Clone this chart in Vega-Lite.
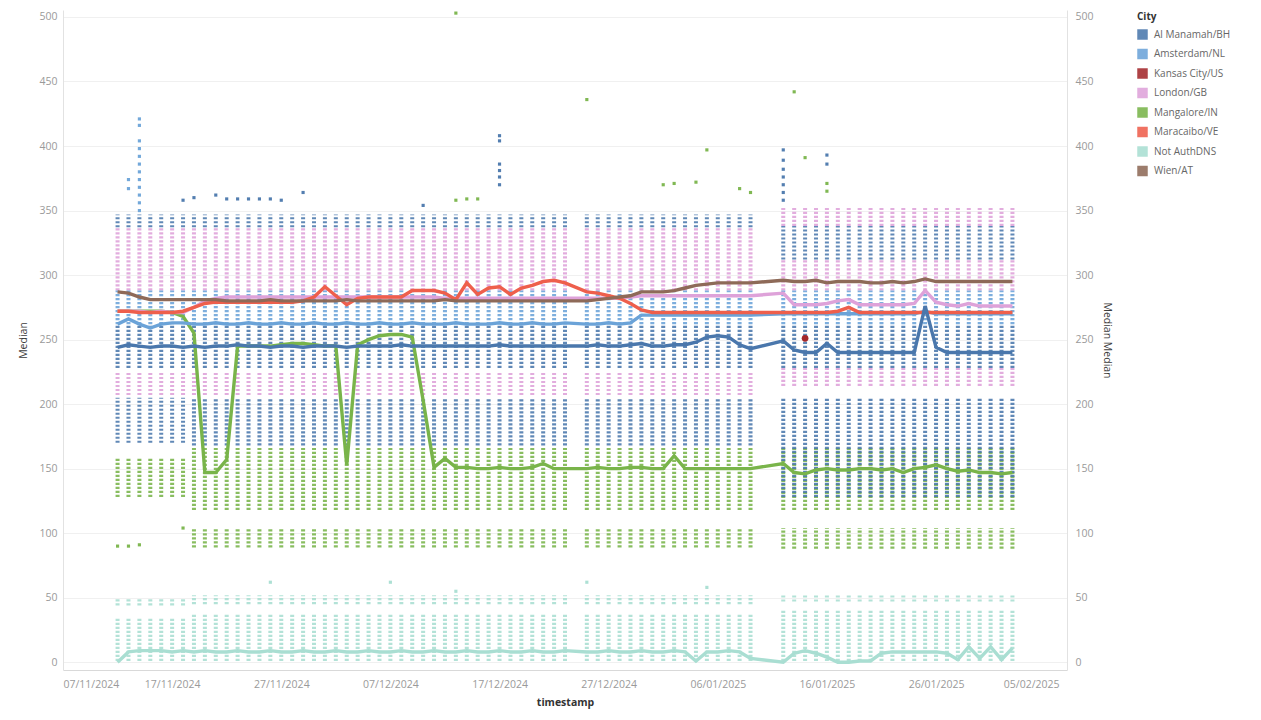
{
  "$schema": "https://vega.github.io/schema/vega-lite/v6.json",
  "width": 1004,
  "height": 660,
  "autosize": {"type": "none"},
  "padding": {"left": 63, "top": 10, "right": 194, "bottom": 50},
  "background": "white",
  "config": {
    "view": {"stroke": null},
    "font": "Open Sans",
    "axis": {"labelFont": "Open Sans", "titleFont": "Open Sans", "labelColor": "#9a9a9a", "titleColor": "#3c3c3c", "labelFontSize": 10.5, "titleFontSize": 10.5, "titleFontWeight": "normal", "ticks": false, "domainColor": "#e2e2e2", "gridColor": "#f0f0f0"}
  },
  "datasets": {
    "names": [
      {"k": "a", "city": "Al Manamah/BH"},
      {"k": "b", "city": "Amsterdam/NL"},
      {"k": "l", "city": "London/GB"},
      {"k": "g", "city": "Mangalore/IN"},
      {"k": "r", "city": "Maracaibo/VE"},
      {"k": "n", "city": "Not AuthDNS"},
      {"k": "w", "city": "Wien/AT"}
    ],
    "pat": [
      {"p": "E", "city": ["Al Manamah/BH", "London/GB", "Amsterdam/NL", "Al Manamah/BH", "London/GB", "Al Manamah/BH", "Mangalore/IN", "Not AuthDNS", "Not AuthDNS"], "lo": [337, 288, 262, 228, 207, 170, 128, 1, 44], "hi": [347, 337, 288, 262, 225, 205, 158, 35, 50]},
      {"p": "M", "city": ["Al Manamah/BH", "London/GB", "Amsterdam/NL", "Al Manamah/BH", "London/GB", "Al Manamah/BH", "Mangalore/IN", "Mangalore/IN", "Not AuthDNS", "Not AuthDNS"], "lo": [337, 288, 262, 228, 207, 168, 118, 89, 1, 45], "hi": [347, 337, 288, 262, 225, 205, 166, 103, 38, 52]},
      {"p": "L", "city": ["London/GB", "Al Manamah/BH", "London/GB", "Amsterdam/NL", "Al Manamah/BH", "London/GB", "Mangalore/IN", "Al Manamah/BH", "Mangalore/IN", "Not AuthDNS", "Not AuthDNS"], "lo": [338, 312, 288, 262, 228, 214, 118, 128, 88, 1, 47], "hi": [352, 338, 312, 288, 262, 228, 166, 205, 104, 40, 52]}
    ],
    "days": [
      {"t": "2024-11-12T00:00:00", "p": "E", "a": 244, "b": 262, "l": 272, "g": 272, "r": 272, "n": 0, "w": 287},
      {"t": "2024-11-13T00:00:00", "p": "E", "a": 246, "b": 266, "l": 272, "g": 272, "r": 272, "n": 8, "w": 286},
      {"t": "2024-11-14T00:00:00", "p": "E", "a": 245, "b": 262, "l": 272, "g": 272, "r": 271, "n": 9, "w": 283},
      {"t": "2024-11-15T00:00:00", "p": "E", "a": 244, "b": 259, "l": 271, "g": 272, "r": 271, "n": 9, "w": 281},
      {"t": "2024-11-16T00:00:00", "p": "E", "a": 245, "b": 262, "l": 272, "g": 272, "r": 271, "n": 9, "w": 281},
      {"t": "2024-11-17T00:00:00", "p": "E", "a": 245, "b": 263, "l": 271, "g": 271, "r": 271, "n": 8, "w": 281},
      {"t": "2024-11-18T00:00:00", "p": "E", "a": 244, "b": 263, "l": 271, "g": 268, "r": 272, "n": 9, "w": 281},
      {"t": "2024-11-19T00:00:00", "p": "M", "a": 245, "b": 262, "l": 275, "g": 255, "r": 275, "n": 8, "w": 281},
      {"t": "2024-11-20T00:00:00", "p": "M", "a": 244, "b": 262, "l": 280, "g": 147, "r": 278, "n": 9, "w": 281},
      {"t": "2024-11-21T00:00:00", "p": "M", "a": 245, "b": 263, "l": 282, "g": 147, "r": 279, "n": 8, "w": 281},
      {"t": "2024-11-22T00:00:00", "p": "M", "a": 245, "b": 262, "l": 283, "g": 157, "r": 279, "n": 8, "w": 280},
      {"t": "2024-11-23T00:00:00", "p": "M", "a": 246, "b": 262, "l": 283, "g": 245, "r": 279, "n": 9, "w": 280},
      {"t": "2024-11-24T00:00:00", "p": "M", "a": 245, "b": 263, "l": 283, "g": 245, "r": 279, "n": 8, "w": 280},
      {"t": "2024-11-25T00:00:00", "p": "M", "a": 245, "b": 262, "l": 283, "g": 245, "r": 279, "n": 8, "w": 280},
      {"t": "2024-11-26T00:00:00", "p": "M", "a": 244, "b": 262, "l": 283, "g": 245, "r": 279, "n": 9, "w": 281},
      {"t": "2024-11-27T00:00:00", "p": "M", "a": 245, "b": 263, "l": 283, "g": 246, "r": 279, "n": 8, "w": 280},
      {"t": "2024-11-28T00:00:00", "p": "M", "a": 245, "b": 262, "l": 283, "g": 247, "r": 279, "n": 8, "w": 280},
      {"t": "2024-11-29T00:00:00", "p": "M", "a": 244, "b": 262, "l": 283, "g": 247, "r": 280, "n": 9, "w": 280},
      {"t": "2024-11-30T00:00:00", "p": "M", "a": 245, "b": 263, "l": 283, "g": 246, "r": 283, "n": 8, "w": 280},
      {"t": "2024-12-01T00:00:00", "p": "M", "a": 245, "b": 262, "l": 283, "g": 245, "r": 291, "n": 8, "w": 280},
      {"t": "2024-12-02T00:00:00", "p": "M", "a": 245, "b": 262, "l": 283, "g": 245, "r": 284, "n": 9, "w": 280},
      {"t": "2024-12-03T00:00:00", "p": "M", "a": 244, "b": 263, "l": 283, "g": 153, "r": 277, "n": 8, "w": 281},
      {"t": "2024-12-04T00:00:00", "p": "M", "a": 245, "b": 262, "l": 283, "g": 246, "r": 282, "n": 8, "w": 280},
      {"t": "2024-12-05T00:00:00", "p": "M", "a": 245, "b": 262, "l": 283, "g": 250, "r": 283, "n": 9, "w": 280},
      {"t": "2024-12-06T00:00:00", "p": "M", "a": 245, "b": 263, "l": 283, "g": 253, "r": 283, "n": 8, "w": 280},
      {"t": "2024-12-07T00:00:00", "p": "M", "a": 245, "b": 262, "l": 283, "g": 254, "r": 283, "n": 8, "w": 280},
      {"t": "2024-12-08T00:00:00", "p": "M", "a": 246, "b": 262, "l": 283, "g": 254, "r": 283, "n": 9, "w": 280},
      {"t": "2024-12-09T00:00:00", "p": "M", "a": 245, "b": 263, "l": 283, "g": 252, "r": 288, "n": 8, "w": 280},
      {"t": "2024-12-10T00:00:00", "p": "M", "a": 245, "b": 262, "l": 283, "g": 203, "r": 288, "n": 8, "w": 280},
      {"t": "2024-12-11T00:00:00", "p": "M", "a": 245, "b": 262, "l": 283, "g": 151, "r": 288, "n": 9, "w": 280},
      {"t": "2024-12-12T00:00:00", "p": "M", "a": 245, "b": 262, "l": 282, "g": 158, "r": 286, "n": 8, "w": 281},
      {"t": "2024-12-13T00:00:00", "p": "M", "a": 245, "b": 263, "l": 282, "g": 151, "r": 281, "n": 8, "w": 280},
      {"t": "2024-12-14T00:00:00", "p": "M", "a": 245, "b": 262, "l": 282, "g": 151, "r": 294, "n": 9, "w": 280},
      {"t": "2024-12-15T00:00:00", "p": "M", "a": 245, "b": 262, "l": 282, "g": 150, "r": 285, "n": 8, "w": 280},
      {"t": "2024-12-16T00:00:00", "p": "M", "a": 245, "b": 262, "l": 282, "g": 150, "r": 290, "n": 8, "w": 280},
      {"t": "2024-12-17T00:00:00", "p": "M", "a": 246, "b": 263, "l": 282, "g": 151, "r": 291, "n": 9, "w": 280},
      {"t": "2024-12-18T00:00:00", "p": "M", "a": 245, "b": 262, "l": 282, "g": 150, "r": 285, "n": 8, "w": 280},
      {"t": "2024-12-19T00:00:00", "p": "M", "a": 245, "b": 262, "l": 282, "g": 150, "r": 290, "n": 8, "w": 280},
      {"t": "2024-12-20T00:00:00", "p": "M", "a": 245, "b": 263, "l": 282, "g": 151, "r": 292, "n": 9, "w": 280},
      {"t": "2024-12-21T00:00:00", "p": "M", "a": 245, "b": 262, "l": 282, "g": 154, "r": 295, "n": 8, "w": 280},
      {"t": "2024-12-22T00:00:00", "p": "M", "a": 245, "b": 262, "l": 282, "g": 150, "r": 296, "n": 8, "w": 280},
      {"t": "2024-12-23T00:00:00", "p": "M", "a": 245, "b": 263, "l": 282, "g": 150, "r": 294, "n": 9, "w": 280},
      {"t": "2024-12-25T00:00:00", "p": "M", "a": 245, "b": 262, "l": 282, "g": 150, "r": 287, "n": 8, "w": 280},
      {"t": "2024-12-26T00:00:00", "p": "M", "a": 246, "b": 262, "l": 282, "g": 151, "r": 286, "n": 8, "w": 281},
      {"t": "2024-12-27T00:00:00", "p": "M", "a": 245, "b": 263, "l": 282, "g": 150, "r": 284, "n": 9, "w": 282},
      {"t": "2024-12-28T00:00:00", "p": "M", "a": 245, "b": 262, "l": 282, "g": 150, "r": 282, "n": 8, "w": 283},
      {"t": "2024-12-29T00:00:00", "p": "M", "a": 246, "b": 263, "l": 283, "g": 151, "r": 278, "n": 8, "w": 284},
      {"t": "2024-12-30T00:00:00", "p": "M", "a": 247, "b": 269, "l": 284, "g": 151, "r": 273, "n": 9, "w": 287},
      {"t": "2024-12-31T00:00:00", "p": "M", "a": 245, "b": 269, "l": 284, "g": 150, "r": 271, "n": 8, "w": 287},
      {"t": "2025-01-01T00:00:00", "p": "M", "a": 245, "b": 269, "l": 284, "g": 150, "r": 271, "n": 8, "w": 287},
      {"t": "2025-01-02T00:00:00", "p": "M", "a": 246, "b": 269, "l": 284, "g": 160, "r": 271, "n": 9, "w": 288},
      {"t": "2025-01-03T00:00:00", "p": "M", "a": 246, "b": 269, "l": 284, "g": 150, "r": 271, "n": 8, "w": 290},
      {"t": "2025-01-04T00:00:00", "p": "M", "a": 248, "b": 269, "l": 284, "g": 150, "r": 271, "n": 1, "w": 292},
      {"t": "2025-01-05T00:00:00", "p": "M", "a": 252, "b": 269, "l": 284, "g": 150, "r": 271, "n": 8, "w": 293},
      {"t": "2025-01-06T00:00:00", "p": "M", "a": 253, "b": 269, "l": 284, "g": 150, "r": 271, "n": 8, "w": 294},
      {"t": "2025-01-07T00:00:00", "p": "M", "a": 252, "b": 269, "l": 284, "g": 150, "r": 271, "n": 9, "w": 294},
      {"t": "2025-01-08T00:00:00", "p": "M", "a": 246, "b": 269, "l": 284, "g": 150, "r": 271, "n": 8, "w": 294},
      {"t": "2025-01-09T00:00:00", "p": "M", "a": 243, "b": 269, "l": 284, "g": 150, "r": 271, "n": 3, "w": 294},
      {"t": "2025-01-12T00:00:00", "p": "L", "a": 249, "b": 270, "l": 286, "g": 154, "r": 271, "n": 0, "w": 296},
      {"t": "2025-01-13T00:00:00", "p": "L", "a": 242, "b": 270, "l": 277, "g": 147, "r": 271, "n": 7, "w": 295},
      {"t": "2025-01-14T00:00:00", "p": "L", "a": 240, "b": 270, "l": 277, "g": 146, "r": 271, "n": 9, "w": 295},
      {"t": "2025-01-15T00:00:00", "p": "L", "a": 240, "b": 270, "l": 277, "g": 149, "r": 271, "n": 7, "w": 296},
      {"t": "2025-01-16T00:00:00", "p": "L", "a": 247, "b": 270, "l": 278, "g": 150, "r": 271, "n": 4, "w": 294},
      {"t": "2025-01-17T00:00:00", "p": "L", "a": 240, "b": 270, "l": 280, "g": 149, "r": 272, "n": 0, "w": 295},
      {"t": "2025-01-18T00:00:00", "p": "L", "a": 240, "b": 270, "l": 281, "g": 149, "r": 275, "n": 0, "w": 295},
      {"t": "2025-01-19T00:00:00", "p": "L", "a": 240, "b": 270, "l": 277, "g": 150, "r": 271, "n": 1, "w": 295},
      {"t": "2025-01-20T00:00:00", "p": "L", "a": 240, "b": 270, "l": 277, "g": 150, "r": 271, "n": 1, "w": 294},
      {"t": "2025-01-21T00:00:00", "p": "L", "a": 240, "b": 270, "l": 277, "g": 149, "r": 271, "n": 7, "w": 294},
      {"t": "2025-01-22T00:00:00", "p": "L", "a": 240, "b": 270, "l": 277, "g": 150, "r": 271, "n": 8, "w": 295},
      {"t": "2025-01-23T00:00:00", "p": "L", "a": 240, "b": 270, "l": 277, "g": 147, "r": 271, "n": 8, "w": 294},
      {"t": "2025-01-24T00:00:00", "p": "L", "a": 240, "b": 270, "l": 278, "g": 150, "r": 271, "n": 8, "w": 295},
      {"t": "2025-01-25T00:00:00", "p": "L", "a": 276, "b": 272, "l": 288, "g": 151, "r": 271, "n": 8, "w": 297},
      {"t": "2025-01-26T00:00:00", "p": "L", "a": 244, "b": 270, "l": 279, "g": 153, "r": 271, "n": 8, "w": 295},
      {"t": "2025-01-27T00:00:00", "p": "L", "a": 240, "b": 270, "l": 277, "g": 150, "r": 271, "n": 7, "w": 295},
      {"t": "2025-01-28T00:00:00", "p": "L", "a": 240, "b": 270, "l": 276, "g": 148, "r": 271, "n": 2, "w": 295},
      {"t": "2025-01-29T00:00:00", "p": "L", "a": 240, "b": 270, "l": 278, "g": 149, "r": 271, "n": 12, "w": 295},
      {"t": "2025-01-30T00:00:00", "p": "L", "a": 240, "b": 270, "l": 276, "g": 147, "r": 271, "n": 3, "w": 295},
      {"t": "2025-01-31T00:00:00", "p": "L", "a": 240, "b": 270, "l": 276, "g": 147, "r": 271, "n": 12, "w": 295},
      {"t": "2025-02-01T00:00:00", "p": "L", "a": 240, "b": 270, "l": 276, "g": 146, "r": 271, "n": 2, "w": 295},
      {"t": "2025-02-02T00:00:00", "p": "L", "a": 240, "b": 270, "l": 276, "g": 147, "r": 271, "n": 11, "w": 295}
    ],
    "extra": [
      {"t": "2024-11-13T00:00:00", "city": "Amsterdam/NL", "v": 367},
      {"t": "2024-11-13T00:00:00", "city": "Amsterdam/NL", "v": 374},
      {"t": "2024-11-14T00:00:00", "city": "Amsterdam/NL", "v": 350},
      {"t": "2024-11-14T00:00:00", "city": "Amsterdam/NL", "v": 356},
      {"t": "2024-11-14T00:00:00", "city": "Amsterdam/NL", "v": 362},
      {"t": "2024-11-14T00:00:00", "city": "Amsterdam/NL", "v": 368},
      {"t": "2024-11-14T00:00:00", "city": "Amsterdam/NL", "v": 374},
      {"t": "2024-11-14T00:00:00", "city": "Amsterdam/NL", "v": 380},
      {"t": "2024-11-14T00:00:00", "city": "Amsterdam/NL", "v": 386},
      {"t": "2024-11-14T00:00:00", "city": "Amsterdam/NL", "v": 392},
      {"t": "2024-11-14T00:00:00", "city": "Amsterdam/NL", "v": 398},
      {"t": "2024-11-14T00:00:00", "city": "Amsterdam/NL", "v": 404},
      {"t": "2024-11-14T00:00:00", "city": "Amsterdam/NL", "v": 416},
      {"t": "2024-11-14T00:00:00", "city": "Amsterdam/NL", "v": 421},
      {"t": "2024-11-18T00:00:00", "city": "Al Manamah/BH", "v": 358},
      {"t": "2024-11-19T00:00:00", "city": "Al Manamah/BH", "v": 360},
      {"t": "2024-11-21T00:00:00", "city": "Al Manamah/BH", "v": 362},
      {"t": "2024-11-22T00:00:00", "city": "Al Manamah/BH", "v": 359},
      {"t": "2024-11-23T00:00:00", "city": "Al Manamah/BH", "v": 359},
      {"t": "2024-11-24T00:00:00", "city": "Al Manamah/BH", "v": 359},
      {"t": "2024-11-25T00:00:00", "city": "Al Manamah/BH", "v": 359},
      {"t": "2024-11-26T00:00:00", "city": "Al Manamah/BH", "v": 359},
      {"t": "2024-11-27T00:00:00", "city": "Al Manamah/BH", "v": 358},
      {"t": "2024-11-29T00:00:00", "city": "Al Manamah/BH", "v": 364},
      {"t": "2024-12-10T00:00:00", "city": "Al Manamah/BH", "v": 354},
      {"t": "2024-12-17T00:00:00", "city": "Al Manamah/BH", "v": 370},
      {"t": "2024-12-17T00:00:00", "city": "Al Manamah/BH", "v": 376},
      {"t": "2024-12-17T00:00:00", "city": "Al Manamah/BH", "v": 381},
      {"t": "2024-12-17T00:00:00", "city": "Al Manamah/BH", "v": 386},
      {"t": "2024-12-17T00:00:00", "city": "Al Manamah/BH", "v": 404},
      {"t": "2024-12-17T00:00:00", "city": "Al Manamah/BH", "v": 408},
      {"t": "2025-01-12T00:00:00", "city": "Al Manamah/BH", "v": 358},
      {"t": "2025-01-12T00:00:00", "city": "Al Manamah/BH", "v": 364},
      {"t": "2025-01-12T00:00:00", "city": "Al Manamah/BH", "v": 370},
      {"t": "2025-01-12T00:00:00", "city": "Al Manamah/BH", "v": 376},
      {"t": "2025-01-12T00:00:00", "city": "Al Manamah/BH", "v": 382},
      {"t": "2025-01-12T00:00:00", "city": "Al Manamah/BH", "v": 389},
      {"t": "2025-01-12T00:00:00", "city": "Al Manamah/BH", "v": 397},
      {"t": "2025-01-16T00:00:00", "city": "Al Manamah/BH", "v": 386},
      {"t": "2025-01-16T00:00:00", "city": "Al Manamah/BH", "v": 393},
      {"t": "2024-12-13T00:00:00", "city": "Mangalore/IN", "v": 503},
      {"t": "2024-12-13T00:00:00", "city": "Mangalore/IN", "v": 358},
      {"t": "2024-12-14T00:00:00", "city": "Mangalore/IN", "v": 359},
      {"t": "2024-12-15T00:00:00", "city": "Mangalore/IN", "v": 359},
      {"t": "2024-12-25T00:00:00", "city": "Mangalore/IN", "v": 436},
      {"t": "2025-01-01T00:00:00", "city": "Mangalore/IN", "v": 370},
      {"t": "2025-01-02T00:00:00", "city": "Mangalore/IN", "v": 371},
      {"t": "2025-01-04T00:00:00", "city": "Mangalore/IN", "v": 372},
      {"t": "2025-01-05T00:00:00", "city": "Mangalore/IN", "v": 397},
      {"t": "2025-01-08T00:00:00", "city": "Mangalore/IN", "v": 367},
      {"t": "2025-01-09T00:00:00", "city": "Mangalore/IN", "v": 364},
      {"t": "2025-01-13T00:00:00", "city": "Mangalore/IN", "v": 442},
      {"t": "2025-01-14T00:00:00", "city": "Mangalore/IN", "v": 391},
      {"t": "2025-01-16T00:00:00", "city": "Mangalore/IN", "v": 371},
      {"t": "2025-01-16T00:00:00", "city": "Mangalore/IN", "v": 365},
      {"t": "2024-11-12T00:00:00", "city": "Mangalore/IN", "v": 90},
      {"t": "2024-11-13T00:00:00", "city": "Mangalore/IN", "v": 90},
      {"t": "2024-11-14T00:00:00", "city": "Mangalore/IN", "v": 91},
      {"t": "2024-11-18T00:00:00", "city": "Mangalore/IN", "v": 104},
      {"t": "2024-11-26T00:00:00", "city": "Not AuthDNS", "v": 62},
      {"t": "2024-12-07T00:00:00", "city": "Not AuthDNS", "v": 62},
      {"t": "2024-12-13T00:00:00", "city": "Not AuthDNS", "v": 55},
      {"t": "2024-12-25T00:00:00", "city": "Not AuthDNS", "v": 62},
      {"t": "2025-01-05T00:00:00", "city": "Not AuthDNS", "v": 58}
    ],
    "kc": [
      {"t": "2025-01-14T00:00:00", "city": "Kansas City/US", "val": 251}
    ]
  },
  "encoding": {
    "x": {
      "field": "t", "type": "temporal", "title": "timestamp",
      "scale": {"domain": [{"year": 2024, "month": 11, "date": 7}, {"year": 2025, "month": 2, "date": 7}]},
      "axis": {
        "values": [
          {"year": 2024, "month": 11, "date": 7}, {"year": 2024, "month": 11, "date": 17}, {"year": 2024, "month": 11, "date": 27},
          {"year": 2024, "month": 12, "date": 7}, {"year": 2024, "month": 12, "date": 17}, {"year": 2024, "month": 12, "date": 27},
          {"year": 2025, "month": 1, "date": 6}, {"year": 2025, "month": 1, "date": 16}, {"year": 2025, "month": 1, "date": 26},
          {"year": 2025, "month": 2, "date": 5}
        ],
        "format": "%d/%m/%Y", "grid": false, "labelOverlap": false, "labelPadding": 9, "titlePadding": 8,
        "titleFontWeight": "bold", "titleColor": "#333333", "domainColor": "#d9d9d9",
        "labelAlign": {"condition": {"test": "datum.value < datetime(2024, 10, 8)", "value": "left"}, "value": "center"},
        "labelOffset": {"condition": {"test": "datum.value > datetime(2025, 1, 1)", "value": -14}, "value": 0}
      }
    },
    "color": {
      "field": "city", "type": "nominal",
      "scale": {
        "domain": ["Al Manamah/BH", "Amsterdam/NL", "Kansas City/US", "London/GB", "Mangalore/IN", "Maracaibo/VE", "Not AuthDNS", "Wien/AT"],
        "range": ["#4a77ac", "#6ba3d8", "#a3282b", "#dea2d9", "#79b44a", "#ee5f4c", "#a9ded2", "#8e6a58"]
      },
      "legend": {
        "orient": "none", "legendX": 1074, "legendY": 2, "title": "City",
        "titleFontSize": 10, "titleFontWeight": "bold", "titleColor": "#333333", "titlePadding": 7,
        "labelFontSize": 10, "labelColor": "#666666", "labelOffset": 6,
        "symbolType": "square", "symbolSize": 110, "symbolStrokeWidth": 0, "rowPadding": 8.5,
        "encode": {"symbols": {"update": {"fill": {"scale": "color", "field": "value"}, "opacity": {"value": 1}, "strokeWidth": {"value": 0}, "strokeDash": {"value": []}}}}
      }
    }
  },
  "layer": [
    {
      "layer": [
        {
          "data": {"name": "days"},
          "transform": [
            {"lookup": "p", "from": {"data": {"name": "pat"}, "key": "p", "fields": ["city", "lo", "hi"]}},
            {"flatten": ["city", "lo", "hi"]}
          ],
          "mark": {"type": "rule", "strokeWidth": 4, "strokeDash": [2.2, 1.8], "opacity": 0.88},
          "encoding": {
            "y": {"field": "lo", "type": "quantitative", "title": "Median", "scale": {"domain": [-6, 505.4], "nice": false, "zero": false},
              "axis": {"orient": "left", "values": [0, 50, 100, 150, 200, 250, 300, 350, 400, 450, 500], "grid": true, "labelPadding": 6, "titlePadding": 10}},
            "y2": {"field": "hi"}
          }
        },
        {
          "data": {"name": "extra"},
          "mark": {"type": "square", "size": 10, "filled": true, "opacity": 0.95},
          "encoding": {
            "y": {"field": "v", "type": "quantitative", "title": "Median", "scale": {"domain": [-6, 505.4], "nice": false, "zero": false},
              "axis": {"orient": "left", "values": [0, 50, 100, 150, 200, 250, 300, 350, 400, 450, 500], "grid": true, "labelPadding": 6, "titlePadding": 10}}
          }
        }
      ]
    },
    {
      "layer": [
        {
          "data": {"name": "days"},
          "transform": [
            {"fold": ["g", "b", "l", "r", "n", "w", "a"], "as": ["k", "val"]},
            {"lookup": "k", "from": {"data": {"name": "names"}, "key": "k", "fields": ["city"]}}
          ],
          "mark": {"type": "line", "strokeWidth": 3.4, "opacity": 1},
          "encoding": {
            "y": {"field": "val", "type": "quantitative", "title": "Median Median", "scale": {"domain": [-6, 505.4], "nice": false, "zero": false},
              "axis": {"orient": "right", "values": [0, 50, 100, 150, 200, 250, 300, 350, 400, 450, 500], "grid": false, "labelPadding": 8, "titlePadding": 8}}
          }
        },
        {
          "data": {"name": "kc"},
          "mark": {"type": "circle", "size": 45, "opacity": 1},
          "encoding": {
            "y": {"field": "val", "type": "quantitative", "title": "Median Median", "scale": {"domain": [-6, 505.4], "nice": false, "zero": false},
              "axis": {"orient": "right", "values": [0, 50, 100, 150, 200, 250, 300, 350, 400, 450, 500], "grid": false, "labelPadding": 8, "titlePadding": 8}}
          }
        }
      ]
    }
  ],
  "resolve": {"scale": {"y": "independent"}, "axis": {"y": "independent"}}
}
